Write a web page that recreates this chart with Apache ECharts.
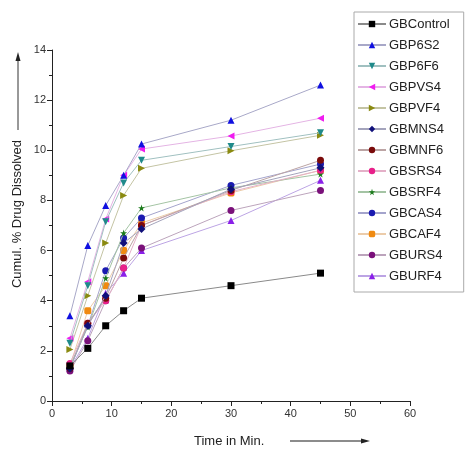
<!DOCTYPE html>
<html><head><meta charset="utf-8">
<script src="https://cdn.jsdelivr.net/npm/echarts@6/dist/echarts.min.js"></script>
<style>html,body{margin:0;padding:0;background:#fff}#c{width:476px;height:450px}</style>
</head><body><div id="c"></div>
<script>
var times = [3, 6, 9, 12, 15, 30, 45];
var seriesNames = ['GBControl','GBP6S2','GBP6F6','GBPVS4','GBPVF4','GBMNS4','GBMNF6','GBSRS4','GBSRF4','GBCAS4','GBCAF4','GBURS4','GBURF4'];
var GBControl = [1.4, 2.1, 3.0, 3.6, 4.1, 4.6, 5.1];
var GBP6S2   = [3.4, 6.2, 7.8, 9.0, 10.25, 11.2, 12.6];
var GBP6F6   = [2.3, 4.6, 7.15, 8.7, 9.6, 10.15, 10.7];
var GBPVS4   = [2.5, 4.76, 7.26, 9.0, 10.05, 10.57, 11.28];
var GBPVF4   = [2.05, 4.2, 6.3, 8.2, 9.28, 9.98, 10.6];
var GBMNS4   = [1.3, 3.0, 4.2, 6.3, 6.86, 8.45, 9.3];
var GBMNF6   = [1.3, 3.1, 4.1, 5.7, 7.0, 8.4, 9.6];
var GBSRS4   = [1.5, 3.1, 4.0, 5.3, 7.0, 8.35, 9.2];
var GBSRF4   = [1.4, 2.95, 4.9, 6.7, 7.7, 8.5, 9.05];
var GBCAS4   = [1.3, 3.0, 5.2, 6.5, 7.3, 8.6, 9.45];
var GBCAF4   = [1.4, 3.6, 4.6, 6.0, 7.1, 8.3, 9.2];
var GBURS4   = [1.2, 2.4, 4.0, 5.3, 6.1, 7.6, 8.4];
var GBURF4   = [1.3, 2.5, 4.3, 5.1, 6.0, 7.2, 8.8];
var xTicks = [0, 10, 20, 30, 40, 50, 60];
var yTicks = [0, 2, 4, 6, 8, 10, 12, 14];

var values = [GBControl,GBP6S2,GBP6F6,GBPVS4,GBPVF4,GBMNS4,GBMNF6,GBSRS4,GBSRF4,GBCAS4,GBCAF4,GBURS4,GBURF4];
var colors = ['#000000','#1010e0','#1f8a8a','#f01cf0','#8a8a10','#10107a','#7a0a0a','#e8208a','#1a7a1a','#1a1ab0','#f08a10','#7a107a','#8a20e8'];
var lineColors = ['#8a8a8a','#a8a8c8','#a0c0c0','#e4b4e4','#c4c4a4','#a4a4bc','#bca4a4','#e4b0c8','#a4c4a4','#a4a4cc','#ecccaa','#bca4bc','#bca4e4'];
var star = 'path://M50,0 L61,35 L98,35 L68,57 L79,91 L50,70 L21,91 L32,57 L2,35 L39,35 Z';
var symbols = ['rect','triangle','triangle','triangle','triangle','diamond','circle','circle',star,'circle','roundRect','circle','triangle'];
var rotates = [0,0,180,90,-90,0,0,0,0,0,0,0,0];

var series = seriesNames.map(function(n, i){
  return {
    name: n, type: 'line',
    data: times.map(function(t, j){ return [t, values[i][j]]; }),
    symbol: symbols[i], symbolRotate: rotates[i], symbolSize: symbols[i]==='diamond'?8:7,
    itemStyle: {color: colors[i]},
    lineStyle: {color: lineColors[i], width: 1},
    z: 2 + (12 - i)
  };
});

var chart = echarts.init(document.getElementById('c'), null, {renderer:'canvas'});
chart.setOption({
  animation: false,
  textStyle: {fontFamily: 'Liberation Sans, Arial, sans-serif'},
  grid: {left: 52, right: 66, top: 50, bottom: 49},
  xAxis: {
    type: 'value', min: 0, max: 60, interval: 10,
    axisLine: {show: true, lineStyle: {color: '#222', width: 1}},
    axisTick: {show: true, length: 5, lineStyle: {color: '#222'}},
    minorTick: {show: true, splitNumber: 2, length: 3, lineStyle: {color: '#222'}},
    splitLine: {show: false},
    axisLabel: {color: '#333', fontSize: 11, margin: 7, formatter: function(v){ return xTicks.indexOf(v) >= 0 ? String(v) : ''; }}
  },
  yAxis: {
    type: 'value', min: 0, max: 14, interval: 2,
    axisLine: {show: true, lineStyle: {color: '#222', width: 1}},
    axisTick: {show: true, length: 5, lineStyle: {color: '#222'}},
    minorTick: {show: true, splitNumber: 2, length: 3, lineStyle: {color: '#222'}},
    splitLine: {show: false},
    axisLabel: {color: '#333', fontSize: 11, margin: 6, formatter: function(v){ return yTicks.indexOf(v) >= 0 ? String(v) : ''; }}
  },
  legend: {
    orient: 'vertical', left: 354, top: 12,
    padding: [5.5, 14, 9.5, 3],
    borderColor: '#aaa', borderWidth: 1,
    itemWidth: 28, itemHeight: 8, itemGap: 8,
    textStyle: {color: '#222', fontSize: 13, padding: [0,0,0,-2]},
    data: seriesNames
  },
  graphic: [
    {type: 'text', left: 11, top: 140, rotation: Math.PI/2,
     style: {text: 'Cumul. % Drug Dissolved', fill: '#222', font: '13px Liberation Sans, Arial, sans-serif'}},
    {type: 'line', shape: {x1: 18, y1: 130, x2: 18, y2: 60}, style: {stroke: '#333', lineWidth: 1}},
    {type: 'polygon', shape: {points: [[18, 52], [15.5, 61], [20.5, 61]]}, style: {fill: '#222'}},
    {type: 'text', left: 194, top: 435,
     style: {text: 'Time in Min.', fill: '#222', font: '13px Liberation Sans, Arial, sans-serif'}},
    {type: 'line', shape: {x1: 290, y1: 441, x2: 362, y2: 441}, style: {stroke: '#666', lineWidth: 1.5}},
    {type: 'polygon', shape: {points: [[370, 441], [361, 438.5], [361, 443.5]]}, style: {fill: '#222'}}
  ],
  series: series
});
</script></body></html>
